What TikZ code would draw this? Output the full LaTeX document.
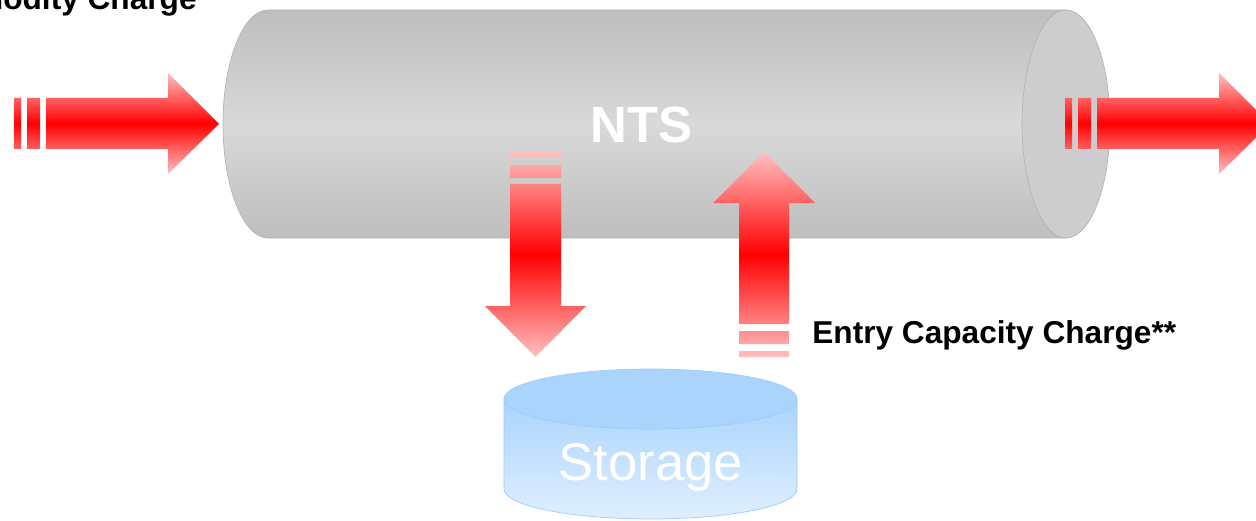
\documentclass[tikz,border=0pt]{standalone}
\usepackage{fontspec}
\setmainfont{Liberation Sans}
\definecolor{pipegray}{RGB}{190,190,190}
\definecolor{pipelight}{RGB}{217,217,217}
\definecolor{pipecap}{RGB}{205,205,205}
\definecolor{pipeedge}{RGB}{180,180,180}
\definecolor{arrowpink}{RGB}{255,192,192}
\definecolor{tankblue}{RGB}{170,212,252}
\definecolor{tanklight}{RGB}{224,239,255}
\definecolor{tankedge}{RGB}{153,204,255}

\begin{document}
\begin{tikzpicture}[x=0.02cm, y=0.02cm,
		redflow/.style={top color=arrowpink, bottom color=arrowpink, middle color=red},
		bigtext/.style={text=white, font=\fontsize{29}{34}\selectfont\bfseries, inner sep=0pt},
		chargetext/.style={font=\fontsize{18}{22}\selectfont\bfseries, inner sep=0pt}]
		\useasboundingbox (0,0) rectangle (1256,-520);
		\clip (0,0) rectangle (1256,-520);
		% the pipe
		\shadedraw [top color=pipegray, bottom color=pipegray, middle color=pipelight, draw=pipeedge, thin] (268,-10) -- (1066,-10) -- (1066,-238) -- (268,-238) arc [start angle=270, end angle=90, x radius=45, y radius=114] -- cycle;
		\filldraw [fill=pipecap, draw=pipeedge, thin] (1066,-124) ellipse [x radius=44, y radius=114];
		% flows in and out
		\foreach \dx in {0,1051}{
			\shade [redflow, shift={(\dx,0)}] (14,-98) rectangle (21,-149) (27,-98) rectangle (40,-149)
				(46,-98) -- (168,-98) -- (168,-73) -- (219,-124) -- (168,-174) -- (168,-149) -- (46,-149) -- cycle;
		}
		\shade [redflow] (510,-152) rectangle (561,-158) (510,-165) rectangle (561,-178)
			(510,-184) -- (561,-184) -- (561,-306) -- (586,-306) -- (535.5,-357) -- (485,-306) -- (510,-306) -- cycle;
		\shade [redflow] (739,-351) rectangle (789,-357) (739,-331) rectangle (789,-344)
			(739,-324) -- (789,-324) -- (789,-203) -- (815,-203) -- (764,-152) -- (713,-203) -- (739,-203) -- cycle;
		% storage
		\shadedraw [top color=tankblue, bottom color=tanklight, draw=tankedge, thin] (504,-399) -- (504,-489) arc [start angle=180, end angle=360, x radius=146.5, y radius=30] -- (797,-399) -- cycle;
		\filldraw [fill=tankblue, draw=tankedge, thin] (650.5,-399) ellipse [x radius=146.5, y radius=30];
		\node [bigtext, anchor=base] (nts) at (641.5,-143) {NTS};
		\node [bigtext, font=\fontsize{30}{36}\selectfont, anchor=base] (storage) at (651,-480) {Storage};
		\node [chargetext, anchor=base west] (entry) at (812,-343) {Entry Capacity Charge**};
		\node [chargetext, anchor=base east] (commodity) at (197,-10) {Commodity Charge};
	\end{tikzpicture}
\end{document}
